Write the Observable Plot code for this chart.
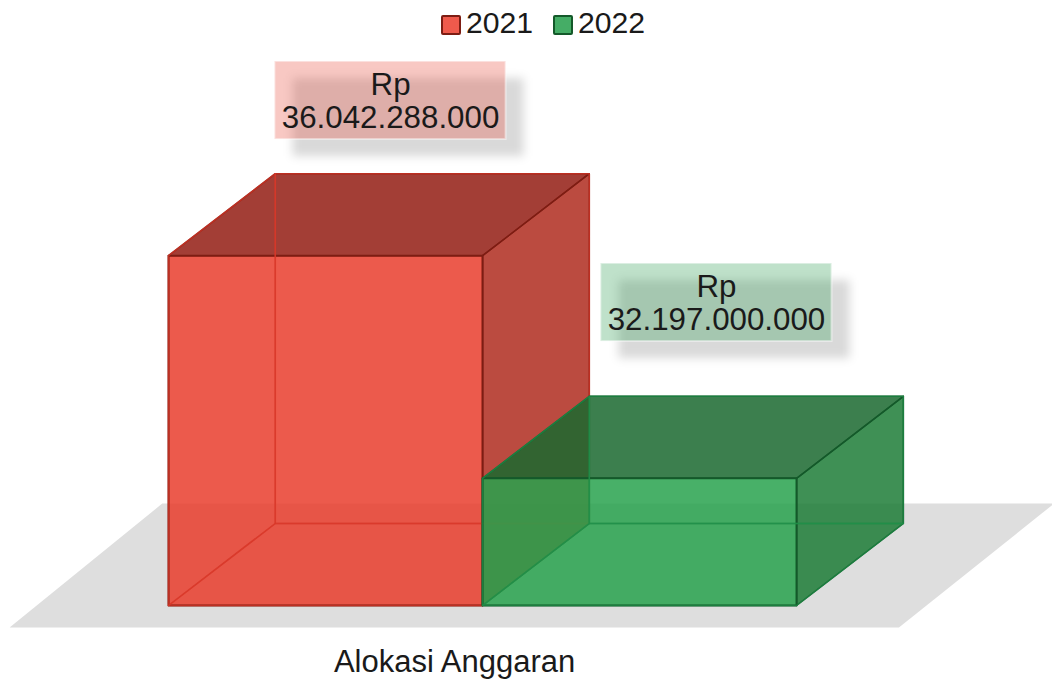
<!DOCTYPE html>
<html>
<head>
<meta charset="utf-8">
<script src="https://cdn.jsdelivr.net/npm/d3@7"></script>
<script src="https://cdn.jsdelivr.net/npm/@observablehq/plot@0.6"></script>
<style>
html,body{margin:0;padding:0;background:#fff;overflow:hidden}
#legend{height:46px;position:relative;font:30.2px "Liberation Sans",Arial,sans-serif;color:#1a1a1a}
.sw{position:absolute;top:15px;width:16px;height:16px;border:2px solid;border-radius:2px}
.lb{position:absolute;top:6px;line-height:34px}
</style>
</head>
<body>
<div id="legend"></div>
<div id="chart"></div>
<script>
const years = ["2021", "2022"];
const values = [36042288000, 32197000000];
const labels = ["Rp\n36.042.288.000", "Rp\n32.197.000.000"];
const category = "Alokasi Anggaran";
const frontFill = ["#e93d2d", "#28a24e"];
const sideFill = ["#af2c1f", "#1d7d37"];
const topFill = ["#931c13", "#1a692f"];
const edge = ["#7d1d13", "#14592a"];
const innerEdge = ["#d9372a", "#1f8f48"];
const swatchFill = ["#ef5a4c", "#45ad66"];
const boxFill = ["#e74c3c", "#2f9e55"];

// scale anchors, in chart units
const base = 30e9;              // the value axis starts here
const depthX = 0.34;            // depth of the 3D box, in bar widths
const depthY = 1.416e9;         // depth of the 3D box, in value units
const floorFront = 29.62e9, floorBack = 31.76e9;
const labelX = [0.707, 1.745], labelY = [38.722e9, 35.233e9];
const labelHalfW = 0.368, labelHalfH = 0.674e9;

const poly = (id, pts) => [...pts, pts[0]].map(([x, y]) => ({id, x, y}));
function cube(i) {
  const a = i, b = i + 1, v = values[i], dx = depthX, dy = depthY;
  return {
    inner: [
      ...poly("back", [[a+dx, base+dy], [b+dx, base+dy], [b+dx, v+dy], [a+dx, v+dy]]),
      ...poly("left", [[a, base], [a+dx, base+dy], [a+dx, v+dy], [a, v]]),
      ...poly("bottom", [[a, base], [b, base], [b+dx, base+dy], [a+dx, base+dy]])
    ],
    right: poly("right", [[b, base], [b+dx, base+dy], [b+dx, v+dy], [b, v]]),
    top: poly("top", [[a, v], [b, v], [b+dx, v+dy], [a+dx, v+dy]]),
    front: poly("front", [[a, base], [b, base], [b, v], [a, v]])
  };
}
const line = (data, o) => Plot.line(data, {x: "x", y: "y", z: "id", curve: "linear", strokeLinejoin: "round", ...o});

const floorPts = poly("floor", [[-0.506, floorFront], [2.326, floorFront], [2.82, floorBack], [-0.02, floorBack]]);

const marks = [line(floorPts, {fill: "#dedede", stroke: "none"})];
years.forEach((y, i) => {
  const c = cube(i);
  marks.push(
    line(c.right, {fill: sideFill[i], fillOpacity: 0.85, stroke: edge[i], strokeWidth: 1.5}),
    line(c.top, {fill: topFill[i], fillOpacity: 0.85, stroke: edge[i], strokeWidth: 1.5}),
    line(c.front, {fill: frontFill[i], fillOpacity: 0.85, stroke: edge[i], strokeWidth: 2}),
    line(c.inner, {stroke: innerEdge[i], strokeWidth: 1.5, strokeOpacity: 0.7})
  );
});
const boxes = years.map((y, i) => ({
  x1: labelX[i] - labelHalfW, x2: labelX[i] + labelHalfW,
  y1: labelY[i] - labelHalfH, y2: labelY[i] + labelHalfH,
  x: labelX[i], y: labelY[i], text: labels[i], fill: boxFill[i]
}));
marks.push(
  Plot.rect(boxes, {x1: "x1", x2: "x2", y1: "y1", y2: "y2", dx: 18, dy: 17, fill: "#000", fillOpacity: 0.15, imageFilter: "blur(5px)"}),
  Plot.rect(boxes, {x1: "x1", x2: "x2", y1: "y1", y2: "y2", fill: "fill", fillOpacity: 0.31, stroke: "#fff", strokeOpacity: 0.45, strokeWidth: 2}),
  Plot.text(boxes, {x: "x", y: "y", text: "text", fontSize: 31.3, lineHeight: 1.06, fill: "#1a1a1a", textAnchor: "middle"}),
  Plot.axisX({ticks: [0.911], tickSize: 0, tickPadding: 16, fontSize: 31, tickFormat: () => category, label: null, fill: "#1a1a1a"})
);

const chart = Plot.plot({
  width: 1052, height: 637,
  marginTop: 0, marginLeft: 0, marginRight: 0, marginBottom: 50,
  style: {fontFamily: '"Liberation Sans",Arial,sans-serif', background: "#fff", overflow: "visible"},
  x: {domain: [-0.535, 2.815], axis: null},
  y: {domain: [29.516e9, 39.655e9], axis: null},
  marks
});
document.getElementById("chart").append(chart);

const leg = document.getElementById("legend");
const sx = [441, 553], tx = [466, 578];
years.forEach((y, i) => {
  const s = document.createElement("div");
  s.className = "sw"; s.style.left = sx[i] + "px";
  s.style.background = swatchFill[i]; s.style.borderColor = edge[i];
  const t = document.createElement("div");
  t.className = "lb"; t.style.left = tx[i] + "px"; t.textContent = y;
  leg.append(s, t);
});
</script>
</body>
</html>
